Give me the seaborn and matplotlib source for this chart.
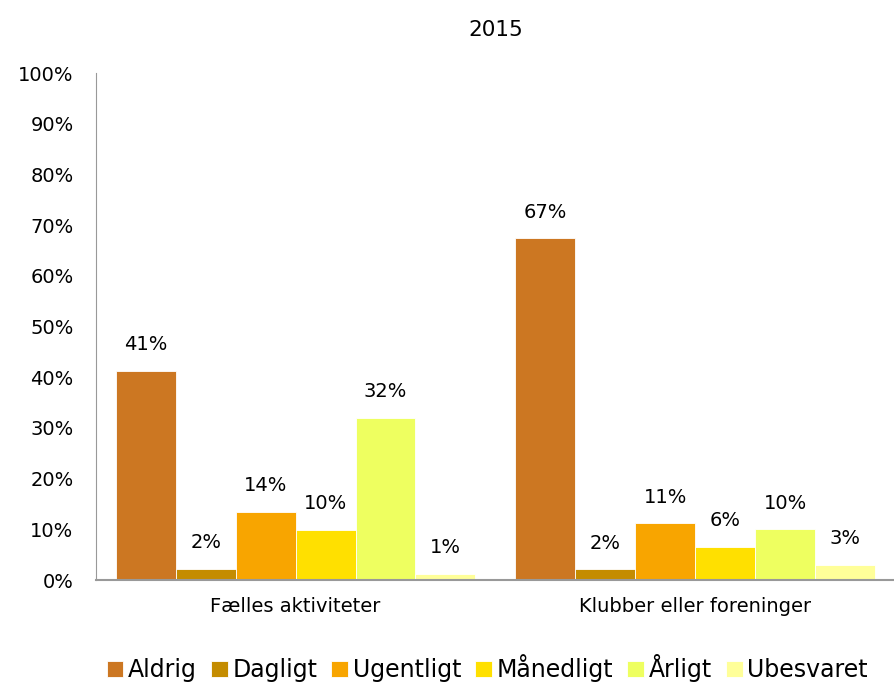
import pandas as pd
import matplotlib.pyplot as plt
import seaborn as sns

# data
groups = ['Fælles aktiviteter', 'Klubber eller foreninger']
answers = ['Aldrig', 'Dagligt', 'Ugentligt', 'Månedligt', 'Årligt', 'Ubesvaret']
faelles = [41.2, 2.2, 13.5, 9.9, 32.0, 1.2]
klubber = [67.4, 2.1, 11.2, 6.5, 10.0, 3.0]
colors = ['#CC7722', '#C48C00', '#F8A500', '#FFE000', '#EEFF60', '#FFFF99']

df = pd.DataFrame({
    'Gruppe': [groups[0]] * len(answers) + [groups[1]] * len(answers),
    'Svar': answers + answers,
    'Andel': faelles + klubber,
})

sns.set_style('white')
plt.rcParams['font.family'] = ['DejaVu Sans']
plt.rcParams['text.color'] = 'black'
plt.rcParams['xtick.color'] = 'black'
plt.rcParams['ytick.color'] = 'black'

fig = plt.figure(figsize=(8.95, 6.86), dpi=100)
ax = fig.add_axes([0.107, 0.1545, 0.893, 0.739])

sns.barplot(data=df, x='Gruppe', y='Andel', hue='Svar', hue_order=answers,
            palette=colors, width=0.9, edgecolor='white', linewidth=0.6,
            saturation=1, ax=ax)

for cont in ax.containers:
    ax.bar_label(cont, labels=[f'{round(v)}%' for v in cont.datavalues],
                 padding=12, fontsize=14, color='black')

ax.set_ylim(0, 100)
ax.set_xlim(-0.5, 1.5)
ax.set_yticks(range(0, 101, 10))
ax.set_yticklabels([f'{v}%' for v in range(0, 101, 10)], fontsize=14)
ax.tick_params(axis='x', labelsize=14, length=0, pad=12)
ax.tick_params(axis='y', length=0, pad=16)
ax.set_xlabel('')
ax.set_ylabel('')
ax.set_title('2015', fontsize=15.5, pad=27, color='black')

for side in ['top', 'right']:
    ax.spines[side].set_visible(False)
ax.spines['left'].set_color('#999999')
ax.spines['bottom'].set_color('#999999')
ax.spines['bottom'].set_linewidth(1.5)

ax.legend(loc='lower center', bbox_to_anchor=(0.49, -0.22), ncol=6,
          frameon=False, fontsize=17, handlelength=0.7, handleheight=0.7,
          handletextpad=0.2, columnspacing=0.6, borderaxespad=0)

fig.savefig('out.png', dpi=100)
